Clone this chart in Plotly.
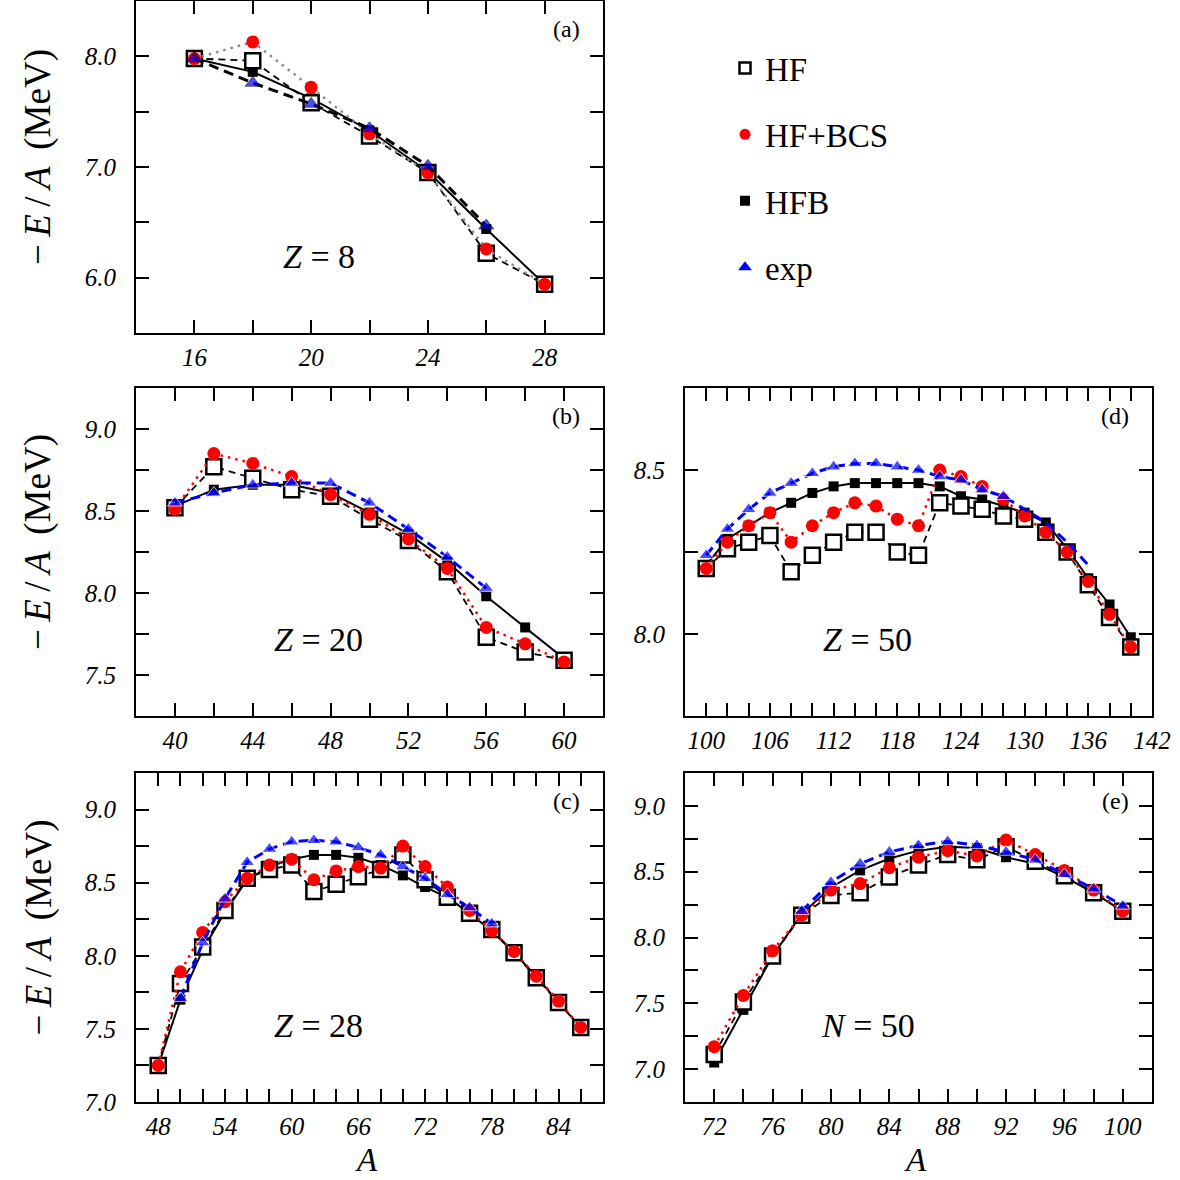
import plotly.graph_objects as go

# ---------------- data ----------------
A_Z8 = [16, 18, 20, 22, 24, 26, 28]
HF_Z8 = [7.98, 7.96, 7.58, 7.28, 6.95, 6.22, 5.94]
BCS_Z8 = [7.98, 8.13, 7.72, 7.30, 6.95, 6.26, 5.94]
HFB_Z8 = [7.98, 7.86, 7.62, 7.33, 6.96, 6.44, 5.94]
A_Z8_EXP = [16, 18, 20, 22, 24, 26]
EXP_Z8 = [7.98, 7.76, 7.57, 7.35, 7.01, 6.47]

A_Z20 = [40, 42, 44, 46, 48, 50, 52, 54, 56, 58, 60]
HF_Z20 = [8.52, 8.77, 8.70, 8.63, 8.59, 8.45, 8.32, 8.13, 7.73, 7.64, 7.59]
BCS_Z20 = [8.51, 8.85, 8.79, 8.71, 8.60, 8.48, 8.33, 8.15, 7.79, 7.69, 7.58]
HFB_Z20 = [8.53, 8.63, 8.66, 8.66, 8.61, 8.49, 8.36, 8.19, 7.98, 7.79, 7.60]
A_Z20_EXP = [40, 42, 44, 46, 48, 50, 52, 54, 56]
EXP_Z20 = [8.55, 8.61, 8.66, 8.67, 8.67, 8.55, 8.39, 8.22, 8.03]

A_Z28 = [48, 50, 52, 54, 56, 58, 60, 62, 64, 66, 68, 70, 72, 74, 76, 78, 80, 82, 84, 86]
HF_Z28 = [7.25, 7.81, 8.06, 8.31, 8.53, 8.59, 8.62, 8.44, 8.49, 8.54, 8.59, 8.69, 8.52,
          8.40, 8.29, 8.18, 8.02, 7.85, 7.68, 7.51]
BCS_Z28 = [7.25, 7.89, 8.16, 8.37, 8.53, 8.62, 8.66, 8.52, 8.58, 8.61, 8.60, 8.75, 8.61,
           8.47, 8.31, 8.17, 8.03, 7.86, 7.69, 7.51]
HFB_Z28 = [7.25, 7.70, 8.04, 8.30, 8.52, 8.61, 8.66, 8.69, 8.69, 8.67, 8.62, 8.55, 8.47,
           8.40, 8.29, 8.17, 8.02, 7.86, 7.68, 7.51]
A_Z28_EXP = [50, 52, 54, 56, 58, 60, 62, 64, 66, 68, 70, 72, 74, 76, 78]
EXP_Z28 = [7.71, 8.09, 8.39, 8.64, 8.73, 8.78, 8.79, 8.78, 8.74, 8.69, 8.61, 8.53, 8.42,
           8.33, 8.22]

A_Z50 = [100, 102, 104, 106, 108, 110, 112, 114, 116, 118, 120, 122, 124, 126, 128, 130,
         132, 134, 136, 138, 140]
HF_Z50 = [8.20, 8.26, 8.28, 8.30, 8.19, 8.24, 8.28, 8.31, 8.31, 8.25, 8.24, 8.40, 8.39,
          8.38, 8.36, 8.35, 8.31, 8.25, 8.15, 8.05, 7.96]
BCS_Z50 = [8.20, 8.28, 8.33, 8.37, 8.28, 8.33, 8.37, 8.40, 8.39, 8.35, 8.33, 8.50, 8.48,
           8.45, 8.41, 8.36, 8.31, 8.25, 8.16, 8.06, 7.96]
HFB_Z50 = [8.21, 8.29, 8.33, 8.37, 8.40, 8.43, 8.45, 8.46, 8.46, 8.46, 8.46, 8.45, 8.42,
           8.41, 8.39, 8.37, 8.34, 8.26, 8.17, 8.09, 7.99]
A_Z50_EXP = [100, 102, 104, 106, 108, 110, 112, 114, 116, 118, 120, 122, 124, 126, 128,
             130, 132, 134, 136]
EXP_Z50 = [8.24, 8.32, 8.38, 8.43, 8.46, 8.49, 8.51, 8.52, 8.52, 8.51, 8.50, 8.48, 8.47,
           8.44, 8.42, 8.38, 8.34, 8.28, 8.21]

A_N50 = [72, 74, 76, 78, 80, 82, 84, 86, 88, 90, 92, 94, 96, 98, 100]
HF_N50 = [7.11, 7.51, 7.86, 8.17, 8.32, 8.34, 8.46, 8.55, 8.63, 8.59, 8.69, 8.58, 8.47,
          8.34, 8.20]
BCS_N50 = [7.17, 7.56, 7.90, 8.17, 8.36, 8.41, 8.53, 8.61, 8.66, 8.62, 8.74, 8.63, 8.51,
           8.36, 8.20]
HFB_N50 = [7.05, 7.45, 7.86, 8.18, 8.38, 8.51, 8.60, 8.66, 8.69, 8.68, 8.61, 8.56, 8.46,
           8.34, 8.20]
A_N50_EXP = [78, 80, 82, 84, 86, 88, 90, 92, 94, 96, 98, 100]
EXP_N50 = [8.20, 8.42, 8.56, 8.65, 8.70, 8.73, 8.70, 8.65, 8.59, 8.48, 8.37, 8.24]

# tick labels
XT_A = ["16", "20", "24", "28"]
YT_A = ["6.0", "7.0", "8.0"]
XT_B = ["40", "44", "48", "52", "56", "60"]
YT_B = ["7.5", "8.0", "8.5", "9.0"]
XT_C = ["48", "54", "60", "66", "72", "78", "84"]
YT_C = ["7.0", "7.5", "8.0", "8.5", "9.0"]
XT_D = ["100", "106", "112", "118", "124", "130", "136", "142"]
YT_D = ["8.0", "8.5"]
XT_E = ["72", "76", "80", "84", "88", "92", "96", "100"]
YT_E = ["7.0", "7.5", "8.0", "8.5", "9.0"]

SERIES_NAMES = ["HF", "HF+BCS", "HFB", "exp"]
PANEL_LABELS = ["(a)", "(b)", "(c)", "(d)", "(e)"]
PANEL_TEXT = ["<i>Z</i> = 8", "<i>Z</i> = 20", "<i>Z</i> = 28", "<i>Z</i> = 50", "<i>N</i> = 50"]
Y_TITLE = "\u2212\u2009<i>E</i>\u2009/\u2009<i>A</i>\u2009 (MeV)"

W = H = 1180
FONT = "Liberation Serif, Times New Roman, Times, serif"


def px(x):
    return x / W


def py(y):
    return 1 - y / H


# panel geometry (pixels) and axis settings
panels = [
    dict(a=A_Z8, hf=HF_Z8, bcs=BCS_Z8, hfb=HFB_Z8, ae=A_Z8_EXP, ex=EXP_Z8,
         box=(136, 603, 1, 333), xr=(14, 30), xs=2, yr=(5.5, 8.5), ys=0.5,
         xt=XT_A, yt=YT_A, first=True),
    dict(a=A_Z20, hf=HF_Z20, bcs=BCS_Z20, hfb=HFB_Z20, ae=A_Z20_EXP, ex=EXP_Z20,
         box=(136, 603, 388, 716), xr=(38, 62), xs=2, yr=(7.25, 9.25), ys=0.25,
         xt=XT_B, yt=YT_B, first=False),
    dict(a=A_Z28, hf=HF_Z28, bcs=BCS_Z28, hfb=HFB_Z28, ae=A_Z28_EXP, ex=EXP_Z28,
         box=(136, 603, 773, 1102), xr=(46, 88), xs=2, yr=(7.0, 9.25), ys=0.25,
         xt=XT_C, yt=YT_C, first=False),
    dict(a=A_Z50, hf=HF_Z50, bcs=BCS_Z50, hfb=HFB_Z50, ae=A_Z50_EXP, ex=EXP_Z50,
         box=(685, 1152, 388, 716), xr=(98, 142), xs=2, yr=(7.75, 8.75), ys=0.25,
         xt=XT_D, yt=YT_D, first=False, exp_marker_max=128),
    dict(a=A_N50, hf=HF_N50, bcs=BCS_N50, hfb=HFB_N50, ae=A_N50_EXP, ex=EXP_N50,
         box=(685, 1152, 773, 1102), xr=(70, 102), xs=2, yr=(6.75, 9.25), ys=0.25,
         xt=XT_E, yt=YT_E, first=False),
]


def make_ticks(lo, hi, step, labels):
    vals, texts = [], []
    n = int(round((hi - lo) / step))
    labmap = {round(float(l), 4): l for l in labels}
    for k in range(n + 1):
        v = round(lo + k * step, 4)
        vals.append(v)
        texts.append("<i>%s</i>" % labmap[v] if v in labmap else "")
    return vals, texts


fig = go.Figure()
layout = dict(autosize=True, margin=dict(l=0, r=0, t=0, b=0, autoexpand=False),
              paper_bgcolor="white", plot_bgcolor="white", showlegend=True)
annotations = []

for i, p in enumerate(panels):
    n = i + 1
    xa = "x" if n == 1 else "x%d" % n
    ya = "y" if n == 1 else "y%d" % n
    x0, x1, y0, y1 = p["box"]
    xv, xtx = make_ticks(p["xr"][0], p["xr"][1], p["xs"], p["xt"])
    yv, ytx = make_ticks(p["yr"][0], p["yr"][1], p["ys"], p["yt"])
    common = dict(showline=True, linecolor="black", linewidth=2, mirror="ticks",
                  ticks="inside", ticklen=13, tickwidth=1.6, tickcolor="black",
                  showgrid=False, zeroline=False,
                  tickfont=dict(family=FONT, size=25, color="black"))
    layout["xaxis" if n == 1 else "xaxis%d" % n] = dict(
        common, domain=[px(x0), px(x1)], range=list(p["xr"]), tickmode="array",
        tickvals=xv, ticktext=xtx, anchor=ya, ticklabelstandoff=1)
    layout["yaxis" if n == 1 else "yaxis%d" % n] = dict(
        common, domain=[py(y1), py(y0)], range=list(p["yr"]), tickmode="array",
        tickvals=yv, ticktext=ytx, anchor=xa, ticklabelstandoff=13)

    first = p["first"]
    bcs_line = "#8c8c8c" if first else "red"
    exp_line = "black" if first else "blue"

    # HFB : solid black, filled squares
    fig.add_trace(go.Scatter(x=p["a"], y=p["hfb"], xaxis=xa, yaxis=ya, mode="lines+markers",
                             line=dict(color="black", width=2),
                             marker=dict(symbol="square", size=10, color="black"),
                             showlegend=False))
    # HF : dashed black, open squares
    fig.add_trace(go.Scatter(x=p["a"], y=p["hf"], xaxis=xa, yaxis=ya, mode="lines+markers",
                             line=dict(color="black", width=1.8, dash="7px,5px"),
                             marker=dict(symbol="square", size=15, color="white",
                                         line=dict(color="black", width=2.5)),
                             showlegend=False))
    # HF+BCS : dotted, red circles
    fig.add_trace(go.Scatter(x=p["a"], y=p["bcs"], xaxis=xa, yaxis=ya, mode="lines+markers",
                             line=dict(color=bcs_line, width=2.5, dash="2.5px,5px"),
                             marker=dict(symbol="circle", size=13, color="red"),
                             showlegend=False))
    # exp : dashed, blue triangles
    mmax = p.get("exp_marker_max")
    sizes = [13 if (mmax is None or a <= mmax) else 0 for a in p["ae"]]
    fig.add_trace(go.Scatter(x=p["ae"], y=p["ex"], xaxis=xa, yaxis=ya, mode="lines+markers",
                             line=dict(color=exp_line, width=3, dash="10px,6px"),
                             marker=dict(symbol="triangle-up", size=sizes, color="blue"),
                             showlegend=False))

    # panel letter
    annotations.append(dict(x=px(x1 - 37), y=py(y0 + 28), xref="paper", yref="paper",
                            text=PANEL_LABELS[i], showarrow=False, xanchor="center",
                            yanchor="middle", font=dict(family=FONT, size=24, color="black")))
    # panel text
    annotations.append(dict(x=px((x0 + x1) / 2 - 51), y=py(y1 - 77), xref="paper", yref="paper",
                            text=PANEL_TEXT[i], showarrow=False, xanchor="center",
                            yanchor="middle", font=dict(family=FONT, size=34, color="black")))

# y axis titles
for (y0, y1) in [(1, 333), (388, 716), (773, 1102)]:
    annotations.append(dict(x=px(38), y=py((y0 + y1) / 2 - 10), xref="paper", yref="paper",
                            text=Y_TITLE, showarrow=False, textangle=-90,
                            xanchor="center", yanchor="middle",
                            font=dict(family=FONT, size=37, color="black")))
# x axis titles
for xc in [(136 + 603) / 2, (685 + 1152) / 2]:
    annotations.append(dict(x=px(xc - 3), y=py(1160), xref="paper", yref="paper",
                            text="<i>A</i>", showarrow=False, xanchor="center", yanchor="middle",
                            font=dict(family=FONT, size=33, color="black")))

# legend entries (markers only)
leg_markers = [
    dict(symbol="square", size=11, color="white", line=dict(color="black", width=2.5)),
    dict(symbol="circle", size=11, color="red"),
    dict(symbol="square", size=10, color="black"),
    dict(symbol="triangle-up", size=12, color="blue"),
]
for name, mk in zip(SERIES_NAMES, leg_markers):
    fig.add_trace(go.Scatter(x=[None], y=[None], mode="markers", name=name, marker=mk,
                             legendgroup=name, showlegend=True))

layout["legend"] = dict(x=px(725), y=py(40), xanchor="left", yanchor="top",
                        font=dict(family=FONT, size=33, color="black"),
                        bgcolor="rgba(0,0,0,0)", traceorder="grouped", tracegroupgap=20.5,
                        itemsizing="trace")
layout["annotations"] = annotations
fig.update_layout(**layout)
fig.write_html("out.html", default_width="100vw", default_height="100vh",
               config={"responsive": True},
               post_script="document.documentElement.style.margin='0';"
                           "document.body.style.margin='0';"
                           "document.documentElement.style.overflow='hidden';"
                           "document.body.style.overflow='hidden';")
